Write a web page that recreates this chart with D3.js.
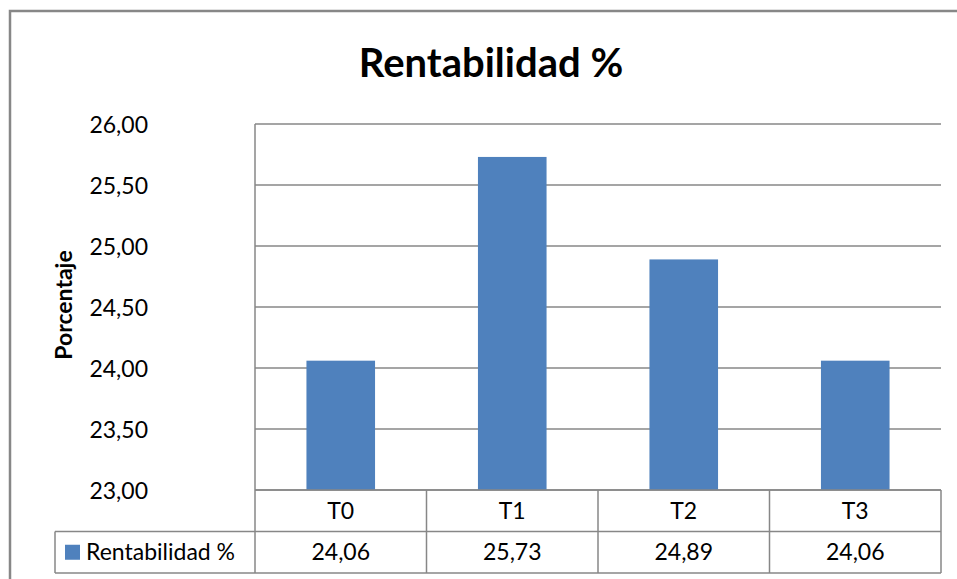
<!DOCTYPE html>
<html>
<head>
<meta charset="utf-8">
<script src="https://cdn.jsdelivr.net/npm/d3@7"></script>
<style>
  body { margin: 0; background: #fff; }
  text { font-family: Lato, "Open Sans", sans-serif; fill: #000; }
</style>
</head>
<body>
<svg id="chart" width="957" height="579"></svg>
<script>
// DATA
var categories = ['T0', 'T1', 'T2', 'T3'];
var values = [24.06, 25.73, 24.89, 24.06];
var seriesName = 'Rentabilidad %';
var yTicks = [23, 23.5, 24, 24.5, 25, 25.5, 26];
var chartTitle = 'Rentabilidad %';
var yLabel = 'Porcentaje';

// LAYOUT
var plotLeft = 255, plotRight = 941, plotTop = 124, plotBottom = 490;
var rowH = 41.5;
var legendLeft = 55;
var gridColor = '#878787';
var barColor = '#4F81BD';

var svg = d3.select('#chart');

// comma decimal format
var es = d3.formatLocale({decimal: ',', thousands: '.', grouping: [3], currency: ['', '€']});
var fmt = es.format('.2f');

// Scales
var y = d3.scaleLinear().domain([23, 26]).range([plotBottom, plotTop]);
var x = d3.scaleBand().domain(categories).range([plotLeft, plotRight])
          .paddingInner(0.6).paddingOuter(0.3);
var col = d3.scaleBand().domain(categories).range([plotLeft, plotRight]);

// Outer chart border (only top and left visible)
svg.append('rect')
   .attr('x', 10).attr('y', 11)
   .attr('width', 1200).attr('height', 1200)
   .style('fill', 'none')
   .style('stroke', gridColor)
   .style('stroke-width', 2.5);

// Title
svg.append('text')
   .attr('x', 491).attr('y', 77)
   .attr('text-anchor', 'middle')
   .style('font-size', '40px')
   .style('font-weight', 'bold')
   .text(chartTitle);

// Y axis label
svg.append('text')
   .attr('transform', 'translate(72,305) rotate(-90)')
   .attr('text-anchor', 'middle')
   .style('font-size', '23px')
   .style('font-weight', 'bold')
   .text(yLabel);

// Gridlines
svg.append('g').selectAll('line.grid')
   .data(yTicks)
   .enter().append('line')
   .attr('class', 'grid')
   .attr('x1', plotLeft).attr('x2', plotRight)
   .attr('y1', d => y(d)).attr('y2', d => y(d))
   .style('stroke', gridColor)
   .style('stroke-width', 1.5);

// Y axis (labels only)
var yAxis = d3.axisLeft(y).tickValues(yTicks).tickFormat(fmt).tickSize(0).tickPadding(0);
var gy = svg.append('g').attr('transform', 'translate(148,0)').call(yAxis);
gy.select('.domain').remove();
gy.selectAll('text')
  .style('font-family', 'Lato, sans-serif')
  .style('font-size', '23px')
  .attr('fill', '#000')
  .attr('dy', '0.35em');

// Axis line
svg.append('line')
   .attr('x1', plotLeft).attr('x2', plotLeft)
   .attr('y1', plotTop).attr('y2', plotBottom)
   .style('stroke', gridColor).style('stroke-width', 1.5);

// Bars
svg.append('g').selectAll('rect.bar')
   .data(values)
   .enter().append('rect')
   .attr('class', 'bar')
   .attr('x', (d, i) => x(categories[i]))
   .attr('y', d => y(d))
   .attr('width', x.bandwidth())
   .attr('height', d => plotBottom - y(d))
   .style('fill', barColor);

// DATA TABLE
var tbl = svg.append('g');
var lineStyle = function(sel) { sel.style('stroke', gridColor).style('stroke-width', 1.5); };

// horizontal lines
tbl.append('line').attr('x1', plotLeft).attr('x2', plotRight)
   .attr('y1', plotBottom).attr('y2', plotBottom).call(lineStyle);
tbl.append('line').attr('x1', legendLeft).attr('x2', plotRight)
   .attr('y1', plotBottom + rowH).attr('y2', plotBottom + rowH).call(lineStyle);
tbl.append('line').attr('x1', legendLeft).attr('x2', plotRight)
   .attr('y1', plotBottom + 2 * rowH).attr('y2', plotBottom + 2 * rowH).call(lineStyle);

// vertical lines
var colEdges = categories.map(c => col(c)).concat([plotRight]);
tbl.selectAll('line.vcol')
   .data(colEdges)
   .enter().append('line')
   .attr('class', 'vcol')
   .attr('x1', d => d).attr('x2', d => d)
   .attr('y1', plotBottom).attr('y2', plotBottom + 2 * rowH)
   .call(lineStyle);
tbl.append('line').attr('x1', legendLeft).attr('x2', legendLeft)
   .attr('y1', plotBottom + rowH).attr('y2', plotBottom + 2 * rowH).call(lineStyle);

// category labels
tbl.selectAll('text.cat')
   .data(categories)
   .enter().append('text')
   .attr('class', 'cat')
   .attr('x', d => col(d) + col.bandwidth() / 2)
   .attr('y', plotBottom + rowH / 2)
   .attr('dy', '0.35em')
   .attr('text-anchor', 'middle')
   .style('font-size', '23px')
   .text(d => d);

// values
tbl.selectAll('text.val')
   .data(values)
   .enter().append('text')
   .attr('class', 'val')
   .attr('x', (d, i) => col(categories[i]) + col.bandwidth() / 2)
   .attr('y', plotBottom + rowH * 1.5)
   .attr('dy', '0.35em')
   .attr('text-anchor', 'middle')
   .style('font-size', '23px')
   .text(d => fmt(d));

// legend key
tbl.append('rect')
   .attr('x', 65).attr('y', plotBottom + rowH * 1.5 - 7.5)
   .attr('width', 15).attr('height', 15)
   .style('fill', barColor);
tbl.append('text')
   .attr('x', 86)
   .attr('y', plotBottom + rowH * 1.5)
   .attr('dy', '0.35em')
   .style('font-size', '23px')
   .text(seriesName);
</script>
</body>
</html>
